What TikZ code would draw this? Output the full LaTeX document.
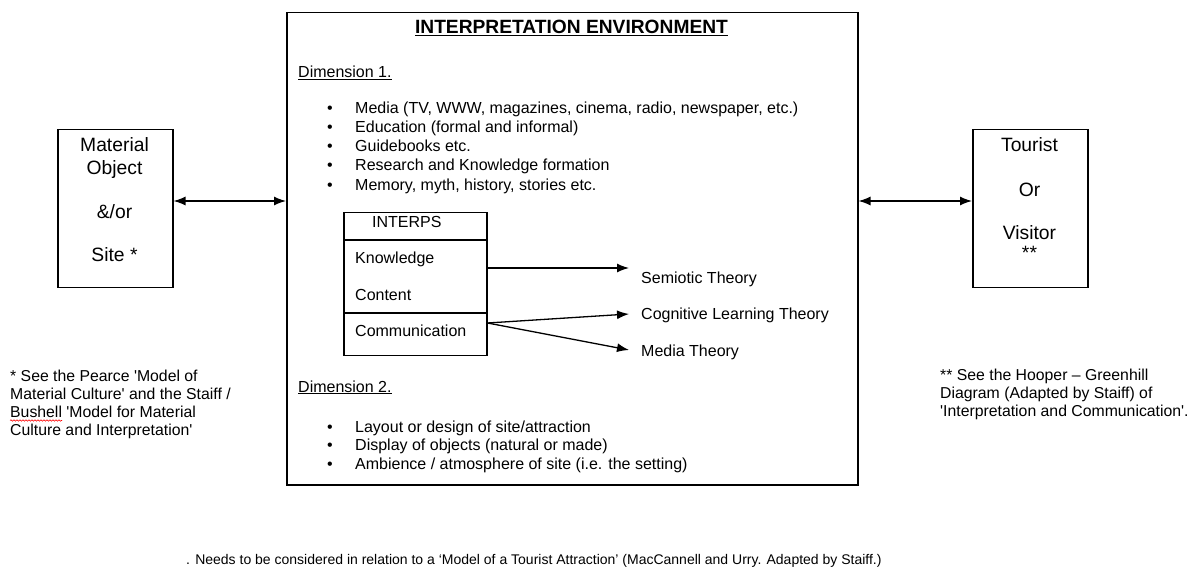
\documentclass[tikz,border=0pt]{standalone}
\usepackage{fontspec}
\setmainfont{Liberation Sans}
\usetikzlibrary{arrows.meta,decorations.pathmorphing}
\begin{document}
\begin{tikzpicture}[x=1pt,y=-1pt,
  box/.style={draw,line width=1.5pt,inner sep=0pt},
  body/.style={font=\fontsize{16}{19}\selectfont,inner sep=0pt,anchor=base west},
  note/.style={font=\fontsize{15.8}{18}\selectfont,inner sep=0pt,anchor=north west,align=left},
  bignode/.style={font=\fontsize{19.3}{22}\selectfont,inner sep=0pt,anchor=base},
  tip/.style={-{Latex[length=12pt,width=9pt]},line width=1.3pt},
  tips/.style={{Latex[length=12pt,width=9pt]}-{Latex[length=12pt,width=9pt]},line width=1.3pt}]
\useasboundingbox (0,0) rectangle (1203,569);
% boxes
\node[box,minimum width=115pt,minimum height=158pt,anchor=north west] (mat) at (57,129) {};
\node[box,minimum width=115pt,minimum height=158pt,anchor=north west] (tour) at (972,129) {};
\node[box,minimum width=571pt,minimum height=472pt,anchor=north west] (env) at (286,12) {};
\node[box,minimum width=143pt,minimum height=143pt,anchor=north west] (interps) at (343,212) {};
% left box text
\node[bignode] (m1) at (114.5,152) {Material};
\node[bignode] (m2) at (114.5,175) {Object};
\node[bignode] (m3) at (114.5,219) {\&/or};
\node[bignode] (m4) at (114.5,262) {Site *};
% right box text
\node[bignode] (t1) at (1029.5,152) {Tourist};
\node[bignode] (t2) at (1029.5,197) {Or};
\node[bignode] (t3) at (1029.5,240) {Visitor};
\node[bignode] (t4) at (1029.5,260) {**};
% arrows between boxes
\coordinate (ly) at (0,201);
\draw[tips] (mat.east |- ly) -- (env.west |- ly);
\draw[tips] (env.east |- ly) -- (tour.west |- ly);
% title
\node[font=\bfseries\fontsize{19.2}{22}\selectfont,inner sep=0pt] (title) at (571.5,28) {\underline{INTERPRETATION ENVIRONMENT}};
% dimension 1
\node[body] (d1) at (298,78) {\underline{Dimension 1.}};
\foreach \y/\t [count=\i] in {114/{Media (TV, WWW, magazines, cinema, radio, newspaper, etc.)},
  133/{Education (formal and informal)},152/{Guidebooks etc.},
  171/{Research and Knowledge formation},191/{Memory, myth, history, stories etc.}}{
  \node[body] (b\i) at (327,\y) {•};
  \node[body] (l\i) at (355,\y) {\t};
}
% interps box
\coordinate (s1) at (0,240);
\coordinate (s2) at (0,313);
\draw[line width=1.5pt] (interps.west |- s1) -- (interps.east |- s1);
\draw[line width=1.5pt] (interps.west |- s2) -- (interps.east |- s2);
\node[body] (ih) at (372,228) {INTERPS};
\node[body] (kn) at (355,264) {Knowledge};
\node[body] (co) at (355,301) {Content};
\node[body] (cm) at (355,337) {Communication};
% theories
\node[body] (sem) at (641,284) {Semiotic Theory};
\node[body] (cog) at (641,320) {Cognitive Learning Theory};
\node[body] (med) at (641,357) {Media Theory};
\coordinate (semtip) at ([xshift=-12pt]sem.base west);
\coordinate (cogtip) at ([xshift=-12pt,yshift=6pt]cog.base west);
\coordinate (medtip) at ([xshift=-12pt,yshift=7pt]med.base west);
\coordinate (a1) at (0,268);
\coordinate (a2) at (0,323);
\draw[tip] (interps.east |- a1) -- (semtip |- a1);
\draw[tip] (interps.east |- a2) -- (cogtip);
\draw[tip] (interps.east |- a2) -- (medtip);
% dimension 2
\node[body] (d2) at (298,392) {\underline{Dimension 2.}};
\foreach \y/\t [count=\i] in {432/{Layout or design of site/attraction},
  450/{Display of objects (natural or made)},469/{Ambience / atmosphere of site (i.e. the setting)}}{
  \node[body] (c\i) at (327,\y) {•};
  \node[body] (k\i) at (355,\y) {\t};
}
% notes
\node[note] (nl) at (10,370) {* See the Pearce \textquotesingle Model of\\Material Culture\textquotesingle{} and the Staiff /\\Bushell \textquotesingle Model for Material\\Culture and Interpretation\textquotesingle};
\draw[red,line width=0.6pt,decorate,decoration={snake,amplitude=0.7pt,segment length=3pt}] (10,420.5) -- (62,420.5);
\node[note] (nr) at (940,369) {** See the Hooper – Greenhill\\Diagram (Adapted by Staiff) of\\\textquotesingle Interpretation and Communication\textquotesingle.};
\node[font=\fontsize{14}{16}\selectfont,inner sep=0pt,anchor=west] (bot) at (186,561) {. Needs to be considered in relation to a ‘Model of a Tourist Attraction’ (MacCannell and Urry. Adapted by Staiff.)};
\end{tikzpicture}
\end{document}
